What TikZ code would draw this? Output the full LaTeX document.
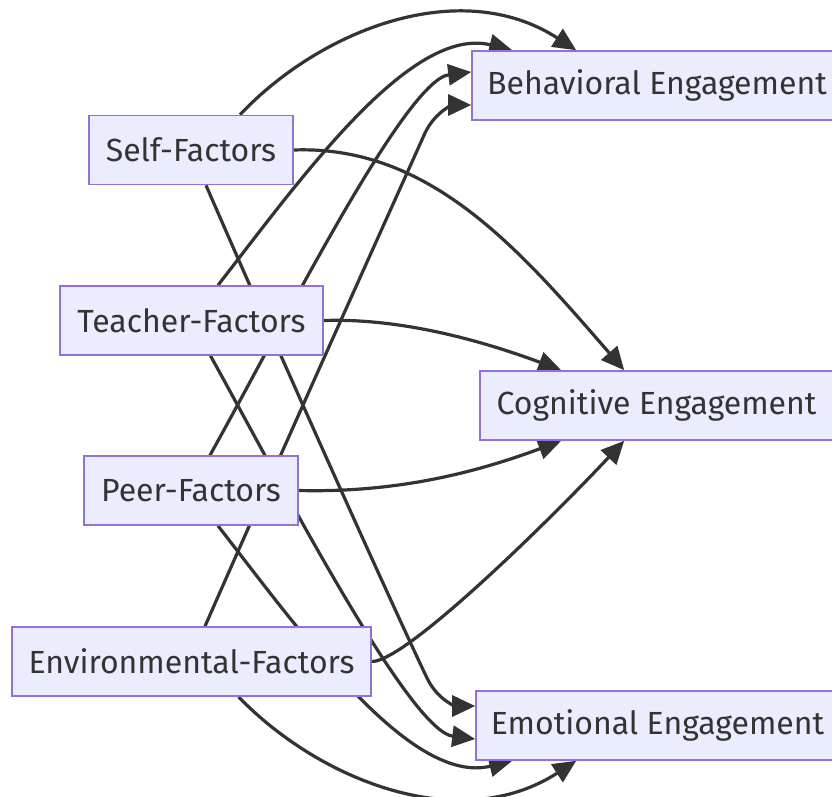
\documentclass[tikz,border=0pt]{standalone}
\usepackage{fontspec}
\setmainfont{Fira Sans}
\usetikzlibrary{arrows.meta,calc}
\definecolor{boxfill}{HTML}{ECECFF}
\definecolor{boxline}{HTML}{9370DB}
\definecolor{ink}{HTML}{333333}
\pgfdeclarelayer{edges}
\pgfsetlayers{edges,main}
\tikzset{
  factor/.style={draw=boxline, fill=boxfill, line width=1.6pt, inner sep=0pt,
    minimum height=69pt, text=ink, font=\fontsize{32}{38}\selectfont},
  link/.style={draw=ink, line width=3.2pt,
    -{Triangle[length=23pt,width=21pt]}},
}
\begin{document}
\begin{tikzpicture}[x=1pt,y=-1pt]
\useasboundingbox (0,0) rectangle (832,796);

% source nodes
\node[factor, minimum width=204pt] (self)    at (191,150)   {Self-Factors};
\node[factor, minimum width=263pt] (teacher) at (191.5,320.5) {Teacher-Factors};
\node[factor, minimum width=214pt] (peer)    at (191,490.5) {Peer-Factors};
\node[factor, minimum width=359pt] (env)     at (191.5,661.5) {Environmental-Factors};

% engagement nodes
\node[factor, minimum width=370pt] (beh) at (657,85.5)    {Behavioral Engagement};
\node[factor, minimum width=353pt] (cog) at (656.5,405.5) {Cognitive Engagement};
\node[factor, minimum width=363pt] (emo) at (657.5,725.5) {Emotional Engagement};

\begin{pgfonlayer}{edges}
% into Behavioral Engagement
\draw[link] ($(self.north)+(49,0)$) .. controls (320,30) and (460,-25) .. ($(beh.north west)+(105,0)$);
\draw[link] ($(teacher.north)+(26.5,0)$) .. controls (300,180) and (410,25) .. ($(beh.north west)+(41,0)$);
\draw[link] ($(peer.north)+(19,0)$) .. controls (280,330) and (405,80) .. ($(beh.west)+(0,-13.5)$);
\draw[link] ($(env.north)+(13.5,0)$) .. controls (300,410) and (395,200) .. (425,133)
  .. controls (436,110) and (455,105) .. ($(beh.west)+(0,19.5)$);

% into Cognitive Engagement
\draw[link] (self.east) .. controls (430,145) and (520,250) .. ($(cog.north west)+(145,0)$);
\draw[link] (teacher.east) .. controls (400,318) and (480,340) .. ($(cog.north west)+(82,0)$);
\draw[link] (peer.east) .. controls (400,493) and (480,471) .. ($(cog.south west)+(82,0)$);
\draw[link] (env.east) .. controls (405,662) and (545,525) .. ($(cog.south west)+(145,0)$);

% into Emotional Engagement
\draw[link] ($(env.south)+(47,0)$) .. controls (320,781) and (460,836) .. ($(emo.south west)+(101,0)$);
\draw[link] ($(peer.south)+(27,0)$) .. controls (300,631) and (410,786) .. ($(emo.south west)+(37,0)$);
\draw[link] ($(teacher.south)+(19,0)$) .. controls (280,481) and (409,731) .. ($(emo.west)+(0,13.5)$);
\draw[link] ($(self.south)+(15,0)$) .. controls (300,401) and (395,611) .. (427,678)
  .. controls (438,701) and (457,706) .. ($(emo.west)+(0,-19.5)$);
\end{pgfonlayer}
\end{tikzpicture}
\end{document}
